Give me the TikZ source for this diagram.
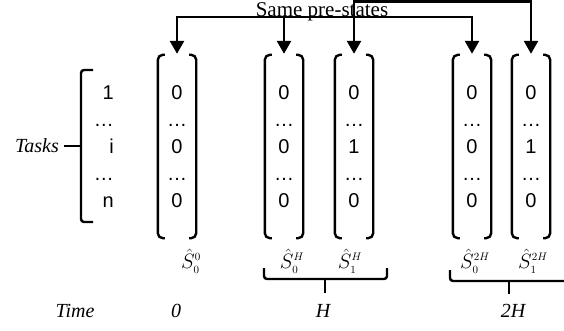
\documentclass[tikz,border=0pt]{standalone}
\usepackage{fontspec}
\setmainfont{Liberation Serif}
\setsansfont{Liberation Sans}
\usetikzlibrary{arrows.meta,positioning}

\begin{document}
\begin{tikzpicture}[
        x=1pt, y=-1pt,
        vec/.style={minimum width=38pt, minimum height=183pt, inner sep=0pt, align=center, font=\sffamily\fontsize{20}{27}\selectfont},
        bracket/.style={draw, line width=2.4pt, rounded corners=5pt},
        bus/.style={draw, line width=2.6pt, line cap=rect},
        pointer/.style={draw, line width=2.6pt, -{Triangle[width=14pt,length=13pt]}, shorten >=1pt},
        lbl/.style={font=\itshape\fontsize{20}{20}\selectfont, inner sep=0pt},
        state/.style={font=\fontsize{22}{22}\selectfont, inner sep=0pt},
    ]
    \useasboundingbox (0,0) rectangle (564,331);

    % task indices and state vectors
    \node[vec, anchor=east, align=right] (idx) at (123,147) {1\\…\\i\\…\\n};
    \node[vec] (s0) at (177,146.5) {0\\…\\0\\…\\0};
    \node[vec] (sH0) at (284,146.5) {0\\…\\0\\…\\0};
    \node[vec] (sH1) at (354,146.5) {0\\…\\1\\…\\0};
    \node[vec] (s2H0) at (472,146.5) {0\\…\\0\\…\\0};
    \node[vec] (s2H1) at (531,146.5) {0\\…\\1\\…\\0};
    \foreach \v in {s0,sH0,sH1,s2H0,s2H1}{
        \draw[bracket] ([xshift=7pt]\v.north west) -- (\v.north west) -- (\v.south west) -- ([xshift=7pt]\v.south west);
        \draw[bracket] ([xshift=-7pt]\v.north east) -- (\v.north east) -- (\v.south east) -- ([xshift=-7pt]\v.south east);
    }

    % tasks brace
    \node[lbl] (tasks) at (37,146) {Tasks};
    \coordinate (tb) at (81,146);
    \draw[bracket, rounded corners=3pt] (93,70) -- (81,70) -- (81,222) -- (93,222);
    \draw[bus, shorten >=6pt] (tb) -- (tasks.east);

    % same pre-states
    \node[font=\fontsize{21}{21}\selectfont, anchor=base, inner sep=0pt] (same) at (322,17) {Same pre-states};
    \coordinate (busA) at (0,17);
    \coordinate (busB) at (0,1.5);
    \draw[bus] (s0.north |- busA) -- (s2H0.north |- busA);
    \draw[bus] (sH1.north |- busB) -- (s2H1.north |- busB);
    \foreach \v in {s0,sH0,s2H0}
        \draw[pointer] (\v.north |- busA) -- (\v.north);
    \foreach \v in {sH1,s2H1}
        \draw[pointer] (\v.north |- busB) -- (\v.north);

    % state labels
    \node[state] (l0) at (191,261) {$\hat{S}^{\scriptscriptstyle 0}_{\scriptscriptstyle 0}$};
    \node[state] (lH0) at (292,261) {$\hat{S}^{\scriptscriptstyle H}_{\scriptscriptstyle 0}$};
    \node[state] (lH1) at (350,261) {$\hat{S}^{\scriptscriptstyle H}_{\scriptscriptstyle 1}$};
    \node[state] (l2H0) at (475,261) {$\hat{S}^{\scriptscriptstyle 2H}_{\scriptscriptstyle 0}$};
    \node[state] (l2H1) at (533,261) {$\hat{S}^{\scriptscriptstyle 2H}_{\scriptscriptstyle 1}$};

    % time braces
    \draw[bracket, rounded corners=3pt] (264,268) -- (264,279) -- (387,279) -- (387,268);
    \draw[bus] (325,279) -- (325,292);
    \draw[bracket, rounded corners=3pt] (450,270) -- (450,281) -- (572,281);
    \draw[bus] (509,281) -- (509,293);

    % time axis
    \node[lbl] (time) at (75,311) {Time};
    \node[lbl] (t0) at (176,311) {0};
    \node[lbl] (tH) at (323,311) {H};
    \node[lbl] (t2H) at (513,311) {2H};
\end{tikzpicture}
\end{document}
